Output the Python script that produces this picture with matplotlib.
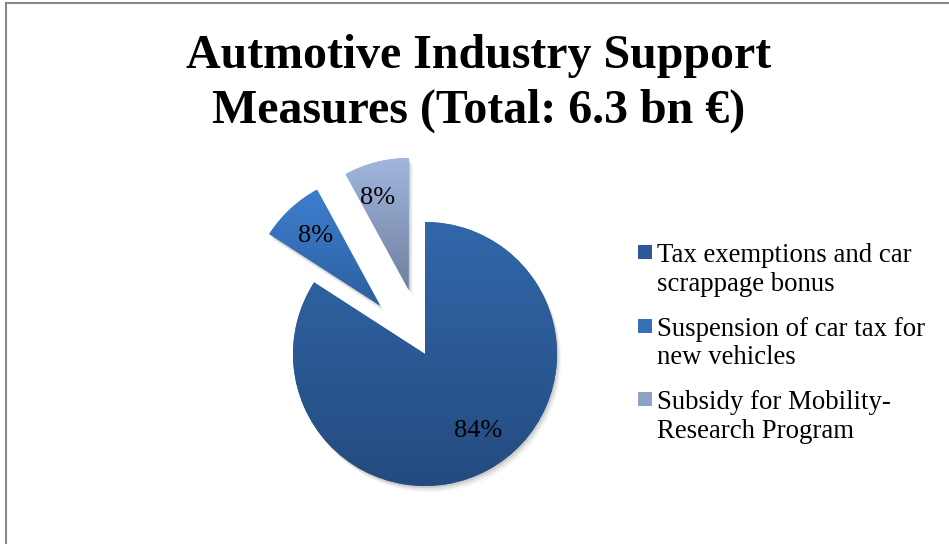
import numpy as np
import matplotlib

matplotlib.use("Agg")
import matplotlib.pyplot as plt
import matplotlib.patheffects as pe
from matplotlib.colors import LinearSegmentedColormap
from matplotlib.lines import Line2D
from matplotlib.patches import Rectangle

plt.rcParams["font.family"] = ["Liberation Serif", "DejaVu Serif"]

title = "Autmotive Industry Support\nMeasures (Total: 6.3 bn €)"
measures = [
    "Tax exemptions and car\nscrappage bonus",
    "Suspension of car tax for\nnew vehicles",
    "Subsidy for Mobility-\nResearch Program",
]
amounts_bn = [5.3, 0.5, 0.5]
explode = [0, 0.5, 0.5]

# gradient colours per slice (top -> bottom)
grad_top = ["#3167AA", "#3D7FCE", "#A1B7DF"]
grad_bottom = ["#244B7F", "#2E5FA0", "#6F809F"]
legend_colors = ["#2B5A96", "#3670B8", "#8FA2C6"]

W, H = 949, 544
R = 132  # pie radius in px
cx, cy = 425, 354  # pie centre in px (from top-left)

fig = plt.figure(figsize=(W / 100, H / 100), dpi=100)
ax = fig.add_axes([(cx - 1.6 * R) / W, (H - cy - 1.2 * R) / H, 3.2 * R / W, 3.2 * R / H])

shadow = [
    pe.SimplePatchShadow(offset=(1.0, -1.5), shadow_rgbFace="k", alpha=0.10),
    pe.SimplePatchShadow(offset=(2.0, -3.0), shadow_rgbFace="k", alpha=0.07),
    pe.SimplePatchShadow(offset=(3.0, -4.5), shadow_rgbFace="k", alpha=0.04),
    pe.Normal(),
]

wedges, _, pct_texts = ax.pie(
    amounts_bn,
    explode=explode,
    startangle=90,
    counterclock=False,
    autopct="%.0f%%",
    pctdistance=0.72,
    colors=legend_colors,
    wedgeprops=dict(linewidth=0, path_effects=shadow),
    textprops=dict(fontsize=19, color="black"),
)
# nudge labels a little, like the best-fit placement in the original
x, y = pct_texts[0].get_position()
pct_texts[0].set_position((x + 0.06, y + 0.05))
x, y = pct_texts[2].get_position()
pct_texts[2].set_position((x - 0.06, y))

# vertical gradient inside each slice
for w, top, bot in zip(wedges, grad_top, grad_bottom):
    ext = w.get_path().get_extents()
    cmap = LinearSegmentedColormap.from_list("g", [bot, top])
    grad = np.linspace(0, 1, 256).reshape(-1, 1)
    im = ax.imshow(grad, cmap=cmap, origin="lower", aspect="auto",
                   extent=(ext.x0, ext.x1, ext.y0, ext.y1), zorder=1.5,
                   interpolation="bilinear")
    im.set_clip_path(w)

ax.set_xlim(-1.6, 1.6)
ax.set_ylim(-1.2, 2.0)
ax.set_aspect("equal")
ax.axis("off")

fig.text(0.504, 1 - 34 / H, title, ha="center", va="top", fontsize=34.5,
         fontweight="bold", linespacing=1.3)

# legend
for i, (lab, col) in enumerate(zip(measures, legend_colors)):
    y_top = 245 + i * 73.5
    fig.patches.append(Rectangle((638 / W, 1 - (y_top + 14) / H), 14 / W, 14 / H,
                                 transform=fig.transFigure, facecolor=col,
                                 edgecolor="none"))
    fig.text(657 / W, 1 - (y_top - 2) / H, lab, ha="left", va="top",
             fontsize=19.3, linespacing=1.2)

# frame on left and top
border = "#8a8a8a"
fig.add_artist(Line2D([5.5 / W, 5.5 / W], [0, 1 - 2.5 / H], color=border, lw=1.5,
                      transform=fig.transFigure))
fig.add_artist(Line2D([5.5 / W, 1], [1 - 2.5 / H, 1 - 2.5 / H], color=border, lw=1.5,
                      transform=fig.transFigure))

fig.savefig("out.png", dpi=100)
